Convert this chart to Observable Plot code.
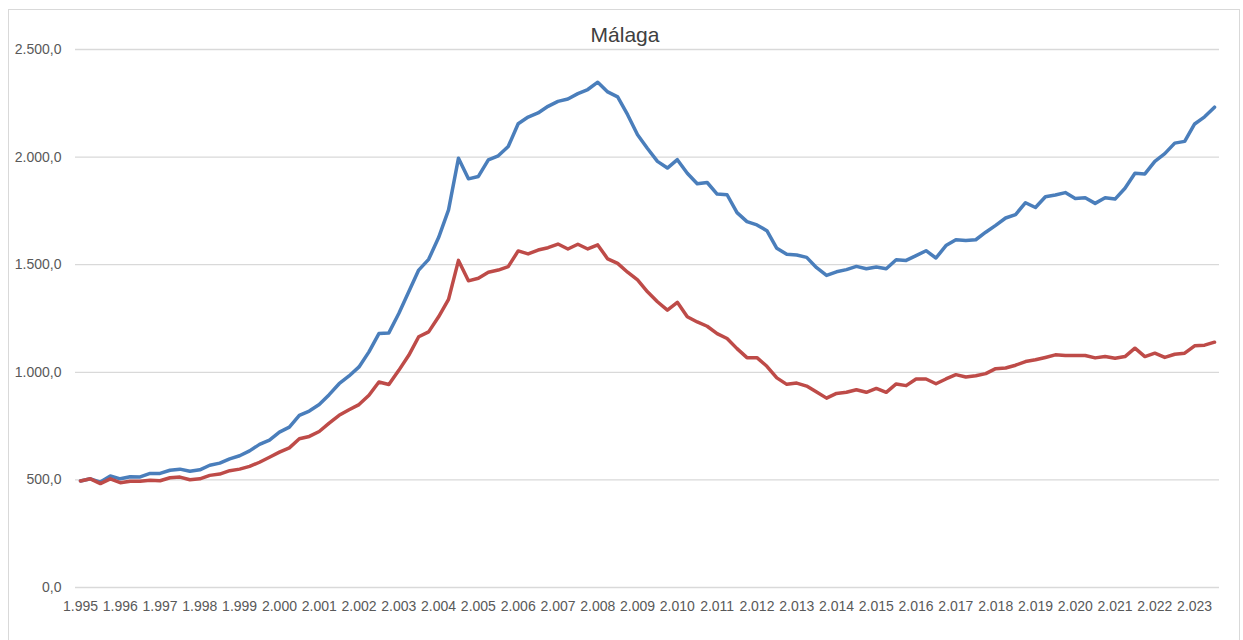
<!DOCTYPE html>
<html><head><meta charset="utf-8">
<script src="https://cdn.jsdelivr.net/npm/d3@7"></script>
<script src="https://cdn.jsdelivr.net/npm/@observablehq/plot@0.6"></script>
<style>
html,body{margin:0;padding:0;background:#fff;overflow:hidden;width:1243px;height:640px}
#frame{position:absolute;left:8px;top:9px;width:1232px;height:700px;border:1px solid #d9d9d9;box-sizing:border-box}
#chart{position:absolute;left:0;top:0}
#title{position:absolute;left:0;width:1250px;top:23px;line-height:24px;text-align:center;font:21px "Liberation Sans",Arial,sans-serif;color:#404040}
</style></head><body>
<div id="frame"></div>
<div id="chart"></div>
<div id="title">Málaga</div>
<script>
// Category tick labels (one per year, every 4 quarters)
const yearLabels = ["1.995","1.996","1.997","1.998","1.999","2.000","2.001","2.002","2.003","2.004",
  "2.005","2.006","2.007","2.008","2.009","2.010","2.011","2.012","2.013","2.014",
  "2.015","2.016","2.017","2.018","2.019","2.020","2.021","2.022","2.023"];
// Y tick values
const yTicks = [0, 500, 1000, 1500, 2000, 2500];
// Quarterly series (1995 Q1 .. 2023 Q3)
const series1 = [
  495, 505, 490, 518, 505, 515, 514, 530, 530, 545, 550, 540, 547, 568, 578, 598, 612, 635, 665, 685,
  722, 745, 800, 820, 850, 896, 947, 983, 1025, 1095, 1180, 1183, 1273, 1374, 1475, 1525, 1626, 1755,
  1995, 1899, 1910, 1987, 2006, 2049, 2155, 2186, 2205, 2236, 2259, 2270, 2295, 2314, 2348, 2303, 2280, 2197, 2104, 2040,
  1980, 1949, 1988, 1925, 1876, 1882, 1828, 1825, 1742, 1700, 1685, 1658, 1576, 1548, 1545, 1534, 1486, 1450, 1467,
  1477, 1492, 1481, 1489, 1481, 1523, 1520, 1542, 1565, 1531, 1589, 1616, 1613, 1616, 1651, 1683, 1717, 1733,
  1788, 1766, 1816, 1824, 1835, 1808, 1811, 1785, 1811, 1805, 1855, 1925, 1922, 1980, 2016, 2065, 2073, 2154, 2187, 2232
];
const series2 = [
  495, 505, 483, 505, 487, 494, 494, 498, 496, 510, 513, 501, 505, 521, 527, 543, 550, 563, 582, 605,
  629, 649, 691, 702, 725, 764, 800, 826, 850, 893, 955, 943, 1009, 1079, 1165, 1188, 1258, 1339,
  1520, 1425, 1437, 1465, 1475, 1491, 1564, 1550, 1568, 1579, 1596, 1573, 1595, 1573, 1592, 1527, 1506, 1465, 1429, 1374,
  1328, 1289, 1325, 1258, 1234, 1214, 1180, 1157, 1110, 1068, 1068, 1028, 974, 944, 950, 936, 908, 880, 902,
  907, 919, 907, 925, 907, 946, 938, 969, 969, 947, 969, 989, 978, 984, 994, 1017, 1020, 1033,
  1050, 1058, 1069, 1081, 1078, 1078, 1078, 1067, 1073, 1065, 1073, 1112, 1073, 1089, 1069, 1084, 1089, 1123, 1126, 1140
];

const n = series1.length;
const xTicks = yearLabels.map((_, k) => 4 * k);
const esLocale = d3.formatLocale({decimal: ",", thousands: ".", grouping: [3], currency: ["", " €"]});
const fmt = esLocale.format(",.1f");

const chart = Plot.plot({
  width: 1243,
  height: 640,
  marginTop: 49,
  marginBottom: 53,
  marginLeft: 75,
  marginRight: 24,
  style: {fontFamily: '"Liberation Sans", Arial, sans-serif', fontSize: "14px", color: "#595959", background: "transparent"},
  x: {domain: [-0.5, n - 0.5]},
  y: {domain: [0, 2500]},
  marks: [
    Plot.gridY(yTicks, {stroke: "#d9d9d9", strokeOpacity: 1, strokeWidth: 1.3}),
    Plot.axisY(yTicks, {tickSize: 0, tickPadding: 14, tickFormat: fmt, label: null}),
    Plot.axisX(xTicks, {tickSize: 0, tickPadding: 14, tickFormat: i => yearLabels[i / 4], label: null}),
    Plot.line(series1, {x: (d, i) => i, y: d => d, stroke: "#4a7ebb", strokeWidth: 3.5, strokeLinejoin: "round", strokeLinecap: "round"}),
    Plot.line(series2, {x: (d, i) => i, y: d => d, stroke: "#be4b48", strokeWidth: 3.5, strokeLinejoin: "round", strokeLinecap: "round"})
  ]
});
document.getElementById("chart").appendChild(chart);
</script></body></html>
